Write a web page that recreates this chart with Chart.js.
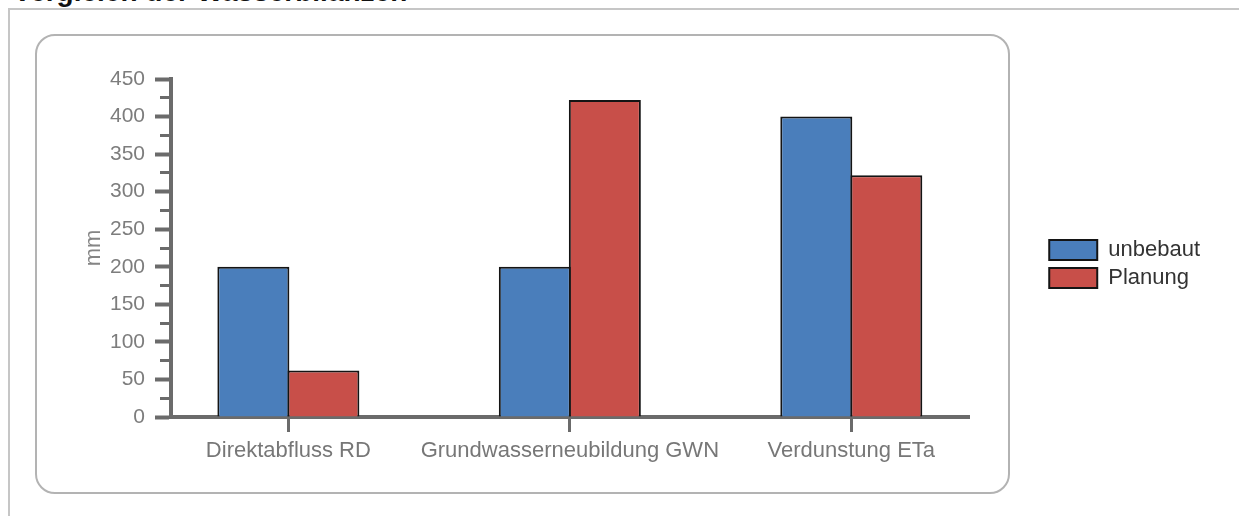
<!DOCTYPE html>
<html>
<head>
<meta charset="utf-8">
<script src="https://cdn.jsdelivr.net/npm/chart.js@4"></script>
<style>
  html, body { margin: 0; padding: 0; background: #fff; }
  #wrap { position: relative; width: 1239px; height: 516px; overflow: hidden; }
  #frame { position: absolute; left: 8px; top: 8px; right: -10px; bottom: -10px;
           border-top: 2px solid #c6c6c6; border-left: 2px solid #c6c6c6; }
  #heading { position: absolute; left: 13px; top: -22px; margin: 0; white-space: nowrap;
             font: bold 28px/28px "Liberation Sans", Arial, sans-serif; color: #111; }
  #panel { position: absolute; left: 35px; top: 34px; width: 971px; height: 456px;
           border: 2px solid #b3b3b3; border-radius: 20px; }
  #chart { position: absolute; left: 0; top: 0; }
</style>
</head>
<body>
<div id="wrap">
  <div id="frame"></div>
  <h2 id="heading">Vergleich der Wasserbilanzen</h2>
  <div id="panel"></div>
  <canvas id="chart" width="1239" height="516"></canvas>
</div>
<script>
// Water balance components (mm)
const categories = ['Direktabfluss RD', 'Grundwasserneubildung GWN', 'Verdunstung ETa'];
const unbebaut = [200, 200, 400];
const planung = [62, 422, 322];
const seriesNames = ['unbebaut', 'Planung'];
const yMin = 0, yMax = 450, yStep = 50, yMinorStep = 25;

const axisGray = '#6b6b6b';
Chart.defaults.font.family = '"Liberation Sans", Arial, sans-serif';

const toPoints = vals => vals.map((v, i) => ({ x: i, y: v }));

// invisible axis used only to reserve layout space
const spacer = size => ({
  min: 0, max: 1,
  afterFit: s => { if (s.isHorizontal()) s.height = size; else s.width = size; },
  grid: { display: false }, ticks: { display: false }, border: { display: false }
});

new Chart(document.getElementById('chart'), {
  type: 'bar',
  data: {
    datasets: [
      { label: seriesNames[0], data: toPoints(unbebaut), backgroundColor: '#4a7ebb',
        borderColor: '#141414', borderWidth: 2 },
      { label: seriesNames[1], data: toPoints(planung), backgroundColor: '#c84f49',
        borderColor: '#141414', borderWidth: 2 }
    ]
  },
  options: {
    responsive: false,
    animation: false,
    layout: { padding: { left: 60, right: 29, top: 61, bottom: 49 } },
    // neighbouring bars overlap by one border width so they share a single edge
    datasets: { bar: { categoryPercentage: 0.4975, barPercentage: 1.0286 } },
    scales: {
      x: {
        type: 'linear', min: -0.417, max: 2.419, offset: false,
        afterBuildTicks: s => { s.ticks = categories.map((c, i) => ({ value: i })); },
        afterFit: s => { s.height = 50; },
        grid: { offset: false, drawOnChartArea: false, drawTicks: true, tickLength: 15,
                tickWidth: 3, tickColor: axisGray },
        border: { display: true, width: 4, color: axisGray },
        ticks: { padding: 6, color: '#777', font: { size: 22 }, autoSkip: false,
                 maxRotation: 0, minRotation: 0, callback: v => categories[v] }
      },
      y: {
        position: 'left', weight: 1, min: yMin, max: yMax,
        afterFit: s => { s.width = 111; },
        ticks: { stepSize: yStep, padding: 10, color: '#7d7d7d', font: { size: 21 } },
        grid: { drawOnChartArea: false, tickLength: 16, tickWidth: 4, tickColor: axisGray },
        border: { display: true, width: 4, color: axisGray },
        title: { display: true, text: 'mm', color: '#858585', font: { size: 22 },
                 padding: { top: 21, bottom: 0 } }
      },
      yMinor: {
        position: 'left', weight: 0, min: yMin, max: yMax,
        afterFit: s => { s.width = 0; },
        ticks: { stepSize: yMinorStep, display: false },
        grid: { drawOnChartArea: false, tickLength: 11, tickWidth: 3,
                tickColor: c => (c.tick && c.tick.value % yStep === 0) ? 'rgba(0,0,0,0)' : axisGray },
        border: { display: false }
      },
      gapTop: Object.assign({ type: 'linear', position: 'top', axis: 'x' }, spacer(18)),
      gapRight: Object.assign({ type: 'linear', position: 'right', axis: 'y' }, spacer(74))
    },
    plugins: {
      legend: {
        position: 'right', align: 'center', maxWidth: 220,
        labels: { boxWidth: 48, boxHeight: 20, padding: 6, color: '#333', font: { size: 22 } }
      },
      tooltip: { enabled: false }
    }
  }
});
</script>
</body>
</html>
